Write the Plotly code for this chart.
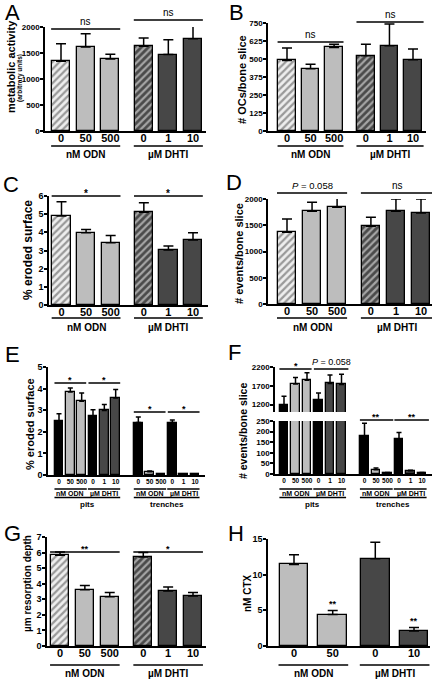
import plotly.graph_objects as go

W, H = 437, 679
FONT = "Liberation Sans, Arial, sans-serif"

# ---------------- data ----------------
dose_labels = ["0", "50", "500", "0", "1", "10"]
group_labels = ["nM ODN", "µM DHTI"]
site_labels = ["pits", "trenches"]

A_mean = [1342, 1617, 1387, 1629, 1470, 1776]
A_sem = [338, 255, 90, 160, 287, 256]
B_mean = [490, 432, 580, 522, 592, 495]
B_sem = [86, 32, 23, 81, 151, 74]
C_mean = [4.90, 3.98, 3.43, 5.10, 3.03, 3.58]
C_sem = [0.79, 0.18, 0.39, 0.53, 0.22, 0.40]
D_mean = [1365, 1765, 1841, 1479, 1765, 1733]
D_sem = [254, 172, 210, 172, 235, 267]
E_pits_mean = [2.51, 3.84, 3.41, 2.74, 2.99, 3.57]
E_pits_sem = [0.32, 0.19, 0.39, 0.28, 0.27, 0.39]
E_tr_mean = [2.43, 0.15, 0.03, 2.43, 0.03, 0.04]
E_tr_sem = [0.25, 0.03, 0.01, 0.12, 0.01, 0.01]
F_pits_mean = [1190, 1745, 1850, 1313, 1761, 1734]
F_pits_sem = [228, 173, 200, 194, 228, 274]
F_tr_mean = [177, 20, 5, 166, 15, 5]
F_tr_sem = [62, 8, 2, 30, 3, 2]
G_mean = [5.82, 3.62, 3.17, 5.72, 3.53, 3.21]
G_sem = [0.22, 0.26, 0.26, 0.28, 0.26, 0.22]
H_labels = ["0", "50", "0", "10"]
H_mean = [11.44, 4.41, 12.24, 2.11]
H_sem = [1.36, 0.56, 2.3, 0.47]

# ---------------- styles ----------------
LIGHT = "#bdbdbd"
DARK = "#474747"
BLACK = "#000000"
HATCH_L_BG = "#eeeeee"
HATCH_L_FG = "#555555"
HATCH_D_BG = "#4a4a4a"
HATCH_D_FG = "#0d0d0d"

pos6 = [0, 1, 2, 3.35, 4.35, 5.35]
pos12 = [0, 1, 2, 3, 4, 5, 7, 8, 9, 10, 11, 12]
pos4 = [0, 1, 2.1, 3.1]

colors6 = [HATCH_L_BG, LIGHT, LIGHT, HATCH_D_BG, DARK, DARK]
pshape6 = ["/", "", "", "/", "", ""]
pfg6 = [HATCH_L_FG, LIGHT, LIGHT, HATCH_D_FG, DARK, DARK]
colors12 = [BLACK, LIGHT, LIGHT, BLACK, DARK, DARK] * 2
colors4 = [LIGHT, LIGHT, DARK, DARK]


def px(xp):
    return xp / W


def py(yp):
    return 1 - yp / H


fig = go.Figure()
layout = {}
shapes = []
annotations = []


def sid(i):
    return "" if i == 1 else str(i)


def add_axes(i, x0, x1, c_first, c_last, p_first, p_last, ytop, ybot, yrange,
             ytickvals, xtickvals=None, xticktext=None, xfont=11, yfont=8,
             show_x=True, xstand=-4):
    pitch = (c_last - c_first) / (p_last - p_first)
    xr = [p_first - (c_first - x0) / pitch, p_last + (x1 - c_last) / pitch]
    s = sid(i)
    layout["xaxis" + s] = dict(
        domain=[px(x0), px(x1)], range=xr, anchor="y" + s, showline=show_x,
        linecolor="black", linewidth=1.5, ticks="", showticklabels=show_x,
        tickvals=xtickvals, ticktext=xticktext, tickangle=0, ticklabelstandoff=xstand,
        tickfont=dict(family=FONT, size=xfont, color="black", weight="bold"),
        showgrid=False, zeroline=False, fixedrange=True)
    layout["yaxis" + s] = dict(
        domain=[py(ybot), py(ytop)], range=yrange, anchor="x" + s, showline=True,
        linecolor="black", linewidth=1.5, ticks="outside", ticklen=3, tickwidth=1.5,
        tickcolor="black", tickvals=ytickvals, ticklabelstandoff=-1,
        tickfont=dict(family=FONT, size=yfont, color="black", weight="bold"),
        showgrid=False, zeroline=False, fixedrange=True)


def add_bars(i, pos, mean, sem, colors, pshape=None, pfg=None, cap=5):
    s = sid(i)
    marker = dict(color=colors, line=dict(color="black", width=1.3))
    if pshape:
        marker["pattern"] = dict(shape=pshape, fgcolor=pfg, fillmode="overlay",
                                 size=5, solidity=0.45)
    fig.add_trace(go.Bar(
        x=pos, y=mean, width=0.74, marker=marker,
        error_y=dict(type="data", symmetric=False, array=sem,
                     arrayminus=[0] * len(sem), color="black", thickness=1.5, width=cap),
        xaxis="x" + s, yaxis="y" + s, showlegend=False, hoverinfo="skip"))


def hline(i, xa, xb, ypx, width=1.5):
    s = sid(i)
    shapes.append(dict(type="line", xref="x" + s, yref="paper", x0=xa, x1=xb,
                       y0=py(ypx), y1=py(ypx), line=dict(color="black", width=width)))


def text(i, x, ypx, t, size, anchor="bottom", bold=True):
    s = sid(i)
    annotations.append(dict(xref="x" + s, yref="paper", x=x, y=py(ypx), text=t,
                            showarrow=False, xanchor="center", yanchor=anchor,
                            font=dict(family=FONT, size=size, color="black",
                                      weight="bold" if bold else "normal")))


def ptext(xp, yp, t, size, angle=0, bold=True, xanchor="center"):
    annotations.append(dict(xref="paper", yref="paper", x=px(xp), y=py(yp), text=t,
                            showarrow=False, xanchor=xanchor, yanchor="middle",
                            textangle=angle,
                            font=dict(family=FONT, size=size, color="black",
                                      weight="bold" if bold else "normal")))


def groups6(i, yline, ylab, size=10, right_end=5.75):
    hline(i, -0.4, 2.4, yline)
    hline(i, 2.95, right_end, yline)
    text(i, 1.0, ylab, group_labels[0], size, anchor="middle")
    text(i, (2.95 + right_end) / 2, ylab, group_labels[1], size, anchor="middle")


def groups12(i, y1, ylab1, y2, ylab2):
    for a, b in [(-0.4, 2.45), (2.55, 5.4), (6.6, 9.45), (9.55, 12.4)]:
        hline(i, a, b, y1, 1.3)
    for k, c in enumerate([1, 4, 8, 11]):
        text(i, c, ylab1, group_labels[k % 2], 7, anchor="middle")
    hline(i, -0.4, 5.4, y2, 1.3)
    hline(i, 6.6, 12.4, y2, 1.3)
    text(i, 2.5, ylab2, site_labels[0], 8, anchor="middle")
    text(i, 9.5, ylab2, site_labels[1], 8, anchor="middle")


# ---------------- A ----------------
add_axes(1, 45, 206, 61, 193, 0, 5.35, 27, 131, [0, 2000], [0, 500, 1000, 1500, 2000],
         pos6, dose_labels)
add_bars(1, pos6, A_mean, A_sem, colors6, pshape6, pfg6)
hline(1, -0.4, 2.4, 29)
text(1, 1.0, 29, "ns", 10, bold=False)
hline(1, 2.95, 5.75, 20)
text(1, 4.35, 20, "ns", 10, bold=False)
groups6(1, 146, 155)
ptext(11, 67, "metabolic activity", 11, angle=-90)
ptext(20, 78, "(arbitrary units)", 6.5, angle=-90)
ptext(12, 12, "A", 22, bold=False)

# ---------------- B ----------------
add_axes(2, 268, 426, 287, 413, 0, 5.35, 23, 131, [0, 750],
         [0, 125, 250, 375, 500, 625, 750], pos6, dose_labels)
add_bars(2, pos6, B_mean, B_sem, colors6, pshape6, pfg6)
hline(2, -0.4, 2.4, 42)
text(2, 1.0, 42, "ns", 10, bold=False)
hline(2, 2.95, 5.8, 22)
text(2, 4.4, 22, "ns", 10, bold=False)
groups6(2, 146, 155, right_end=5.8)
ptext(242, 80, "# OCs/bone slice", 11, angle=-90)
ptext(236, 12, "B", 22, bold=False)

# ---------------- C ----------------
add_axes(3, 49, 208, 61.5, 193, 0, 5.35, 196, 305, [0, 6], [0, 1, 2, 3, 4, 5, 6],
         pos6, dose_labels, yfont=9)
add_bars(3, pos6, C_mean, C_sem, colors6, pshape6, pfg6)
hline(3, -0.4, 2.4, 196)
text(3, 1.0, 201, "*", 10)
hline(3, 2.95, 5.75, 196)
text(3, 4.35, 201, "*", 10)
groups6(3, 318, 327)
ptext(28, 250, "% eroded surface", 12, angle=-90)
ptext(11, 185, "C", 22, bold=False)

# ---------------- D ----------------
add_axes(4, 268, 432, 287, 421, 0, 5.35, 199, 304, [0, 2000], [0, 500, 1000, 1500, 2000],
         pos6, dose_labels)
add_bars(4, pos6, D_mean, D_sem, colors6, pshape6, pfg6)
hline(4, -0.4, 2.4, 193)
text(4, 1.0, 193, "<i>P</i> = 0.058", 9.5, bold=False)
hline(4, 2.95, 5.85, 193)
text(4, 4.4, 193, "ns", 10, bold=False)
groups6(4, 318, 327, right_end=5.85)
ptext(239, 254, "# events/bone slice", 11, angle=-90)
ptext(234, 183, "D", 22, bold=False)

# ---------------- E ----------------
add_axes(5, 48, 205, 59, 195, 0, 12, 367, 475, [0, 5], [0, 1, 2, 3, 4, 5],
         pos12, dose_labels * 2, xfont=6.5, yfont=9, xstand=-1)
add_bars(5, pos12, E_pits_mean + E_tr_mean, E_pits_sem + E_tr_sem, colors12, cap=2.5)
hline(5, -0.4, 2.4, 383)
hline(5, 2.6, 5.4, 383)
text(5, 1.0, 387, "*", 9)
text(5, 4.0, 387, "*", 9)
hline(5, 6.6, 9.4, 412)
hline(5, 9.6, 12.4, 412)
text(5, 8.0, 416, "*", 9)
text(5, 11.0, 416, "*", 9)
groups12(5, 489, 493.5, 497.5, 504)
ptext(30, 424, "% eroded surface", 11, angle=-90)
ptext(12, 354, "E", 22, bold=False)

# ---------------- F (broken axis) ----------------
add_axes(6, 275, 432, 284, 422, 0, 12, 421, 474, [0, 250], [0, 50, 100, 150, 200, 250],
         pos12, dose_labels * 2, xfont=6.5, yfont=8, xstand=-1)
add_axes(7, 275, 432, 284, 422, 0, 12, 367, 412, [1000, 2200], [1200, 1700, 2200],
         yfont=8, show_x=False)
add_bars(6, pos12, F_pits_mean + F_tr_mean, F_pits_sem + F_tr_sem, colors12, cap=2.5)
add_bars(7, pos12, F_pits_mean + F_tr_mean, F_pits_sem + F_tr_sem, colors12, cap=2.5)
hline(7, -0.4, 2.4, 369)
text(7, 1.0, 373, "*", 9)
hline(7, 2.6, 5.6, 369)
text(7, 4.1, 369, "<i>P</i> = 0.058", 9, bold=False)
hline(6, 6.6, 9.5, 420)
hline(6, 9.6, 12.6, 420)
text(6, 8.0, 424, "**", 9)
text(6, 11.1, 424, "**", 9)
groups12(6, 489, 493.5, 497.5, 504)
ptext(243, 431, "# events/bone slice", 10.5, angle=-90)
ptext(234, 352, "F", 22, bold=False)

# ---------------- G ----------------
add_axes(8, 47, 206, 60, 193, 0, 5.35, 537, 646, [0, 7], [0, 1, 2, 3, 4, 5, 6, 7],
         pos6, dose_labels, yfont=9)
add_bars(8, pos6, G_mean, G_sem, colors6, pshape6, pfg6)
hline(8, -0.4, 2.4, 552)
text(8, 1.0, 556, "**", 9)
hline(8, 2.95, 5.75, 552)
text(8, 4.35, 556, "*", 9)
groups6(8, 665, 673)
ptext(27, 584, "µm resorption depth", 10, angle=-90)
ptext(12, 533, "G", 22, bold=False)

# ---------------- H ----------------
add_axes(9, 268, 430, 294, 414, 0, 3.1, 539, 646, [0, 15], [0, 5, 10, 15],
         pos4, H_labels, yfont=9)
add_bars(9, pos4, H_mean, H_sem, colors4, cap=5)
for k in (1, 3):
    annotations.append(dict(xref="x9", yref="y9", x=pos4[k], y=H_mean[k] + H_sem[k],
                            text="**", showarrow=False, xanchor="center", yanchor="bottom",
                            font=dict(family=FONT, size=9, color="black", weight="bold")))
hline(9, -0.4, 1.4, 665)
hline(9, 1.7, 3.5, 665)
text(9, 0.5, 673, group_labels[0], 10, anchor="middle")
text(9, 2.6, 673, group_labels[1], 10, anchor="middle")
ptext(247, 593, "nM CTX", 10, angle=-90)
ptext(236, 533, "H", 22, bold=False)

layout.update(dict(
    width=W, height=H, autosize=False,
    margin=dict(l=0, r=0, t=0, b=0, autoexpand=False),
    paper_bgcolor="white", plot_bgcolor="white", showlegend=False,
    bargap=0, shapes=shapes, annotations=annotations,
    font=dict(family=FONT, color="black")))
fig.update_layout(**layout)
fig.write_html(
    "out.html",
    config={"displayModeBar": False},
    post_script="document.body.style.margin='0px';document.body.style.overflow='hidden';",
)
